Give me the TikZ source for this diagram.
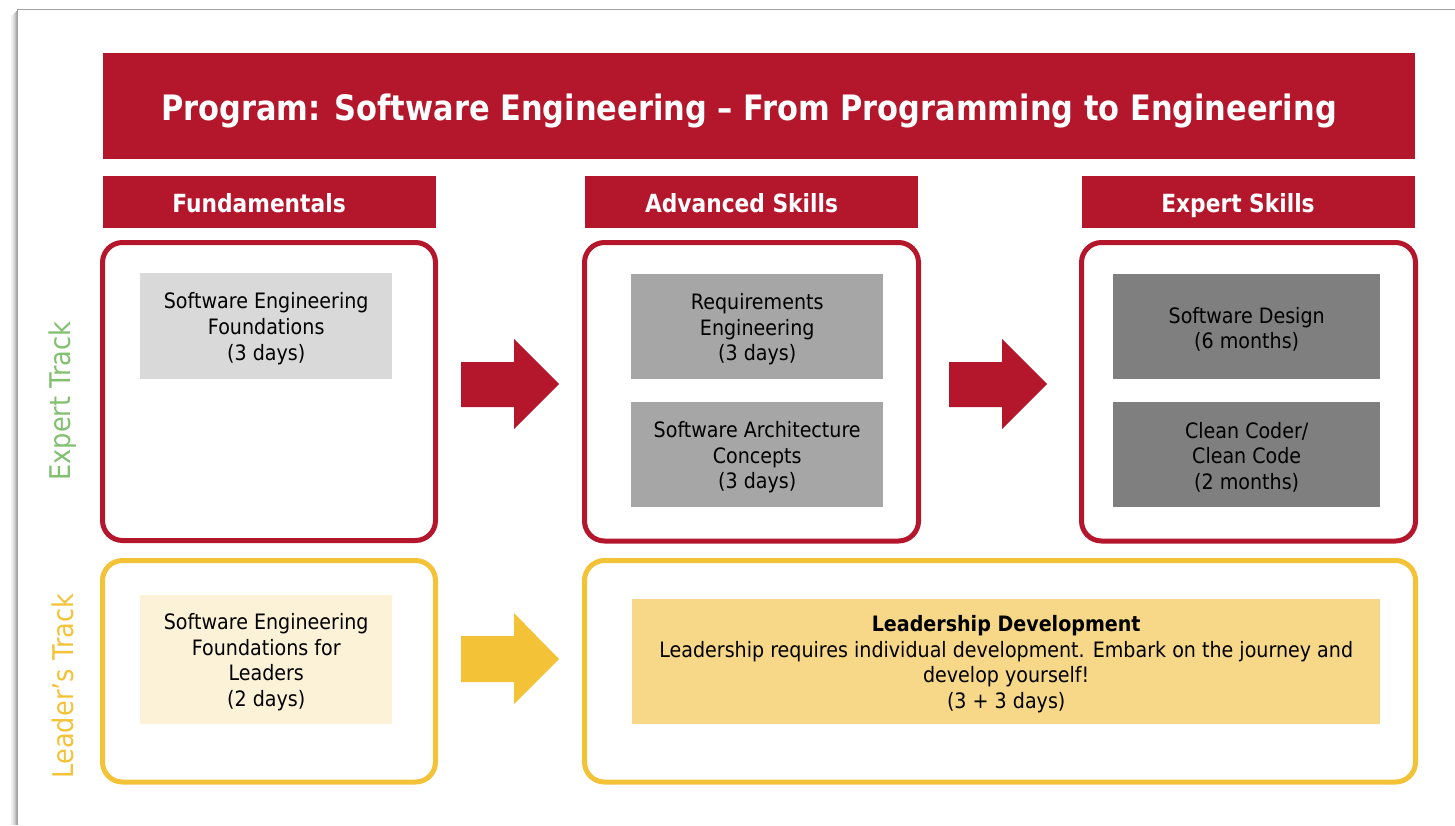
\documentclass[tikz,border=0pt]{standalone}
\usepackage{fontspec}
\setmainfont[FakeStretch=0.9]{DejaVu Sans}
\newfontfamily\titlefont[FakeStretch=0.87]{DejaVu Sans}
\definecolor{cred}{RGB}{180,22,44}
\definecolor{cyel}{RGB}{243,194,55}
\definecolor{cgreen}{RGB}{128,192,110}
\definecolor{g1}{RGB}{217,217,217}
\definecolor{g2}{RGB}{166,166,166}
\definecolor{g3}{RGB}{127,127,127}
\definecolor{cream}{RGB}{252,242,215}
\definecolor{ldev}{RGB}{247,216,136}
\definecolor{frame}{RGB}{160,160,160}
\tikzset{
  bar/.style={fill=cred, inner sep=0pt, anchor=north west},
  bartext/.style={text=white, inner sep=0pt, anchor=base, font=\titlefont\fontsize{25}{30}\selectfont\bfseries},
  redbox/.style={draw=cred, line width=5pt, rounded corners=20pt},
  yelbox/.style={draw=cyel, line width=5pt, rounded corners=20pt},
  course/.style={inner sep=0pt, anchor=north west},
  coursetext/.style={inner sep=0pt, align=center, yshift=-2.5pt, font=\fontsize{21.2}{25.6}\selectfont},
  track/.style={rotate=90, font=\fontsize{28.5}{32}\selectfont}
}
\begin{document}
\begin{tikzpicture}[x=1pt,y=-1pt]
\useasboundingbox (0,0) rectangle (1455,825);
% slide frame with shadow
\foreach \o/\op in {6/0.05,5/0.08,4/0.12,3/0.17,2/0.24,1/0.32}{
  \draw[line width=1pt, black, opacity=\op] (17.5-\o,9.5+\o) -- (17.5-\o,825);
}
\draw[frame, line width=1.5pt] (17.5,825) -- (17.5,9.5) -- (1455,9.5);
% title
\node[bar, minimum width=1312pt, minimum height=106pt] (title) at (103,53) {};
\node[bartext, font=\titlefont\fontsize{35}{40}\selectfont\bfseries] (titletext) at (749,120) {Program: Software Engineering – From Programming to Engineering};
% headers
\node[bar, minimum width=333pt, minimum height=52pt] (h1) at (103,176) {};
\node[bartext] (h1t) at (259,212) {Fundamentals};
\node[bar, minimum width=333pt, minimum height=52pt] (h2) at (585,176) {};
\node[bartext] (h2t) at (741.5,212) {Advanced Skills};
\node[bar, minimum width=333pt, minimum height=52pt] (h3) at (1082,176) {};
\node[bartext] (h3t) at (1238,212) {Expert Skills};
% track boxes
\draw[redbox] (102.5,242.5) rectangle (435.5,540.5);
\draw[redbox] (584.5,242.5) rectangle (918.5,541);
\draw[redbox] (1081.5,242.5) rectangle (1415.5,541);
\draw[yelbox] (102.5,560.5) rectangle (435.5,782);
\draw[yelbox] (584.5,560.5) rectangle (1415.5,782);
% track labels
\node[track, text=cgreen] (et) at (63,401) {Expert Track};
\node[track, text=cyel] (lt) at (63,686) {Leader’s Track};
% courses
\node[course, fill=g1, minimum width=252pt, minimum height=106pt] (sef) at (140,273) {};
\node[coursetext] (seft) at (sef.center) {Software Engineering\\Foundations\\(3 days)};
\node[course, fill=g2, minimum width=252pt, minimum height=105pt] (re) at (631,274) {};
\node[coursetext] (ret) at (re.center) {Requirements\\Engineering\\(3 days)};
\node[course, fill=g2, minimum width=252pt, minimum height=105pt] (sac) at (631,402) {};
\node[coursetext] (sact) at (sac.center) {Software Architecture\\Concepts\\(3 days)};
\node[course, fill=g3, minimum width=267pt, minimum height=105pt] (sd) at (1113,274) {};
\node[coursetext] (sdt) at (sd.center) {Software Design\\(6 months)};
\node[course, fill=g3, minimum width=267pt, minimum height=105pt] (cc) at (1113,402) {};
\node[coursetext] (cct) at (cc.center) {Clean Coder/\\Clean Code\\(2 months)};
\node[course, fill=cream, minimum width=252pt, minimum height=129pt] (sefl) at (140,595) {};
\node[coursetext] (seflt) at (sefl.center) {Software Engineering\\Foundations for\\Leaders\\(2 days)};
\node[course, fill=ldev, minimum width=748pt, minimum height=125pt] (ld) at (632,599) {};
\node[coursetext] (ldt) at (ld.center) {\textbf{Leadership Development}\\Leadership requires individual development. Embark on the journey and\\develop yourself!\\(3 + 3 days)};
% block arrows
\fill[cred] (461,362) -- (514,362) -- (514,339) -- (559,384) -- (514,429) -- (514,407) -- (461,407) -- cycle;
\fill[cred] (949,362) -- (1002,362) -- (1002,339) -- (1047,384) -- (1002,429) -- (1002,407) -- (949,407) -- cycle;
\fill[cyel] (461,636) -- (514,636) -- (514,613) -- (559,659) -- (514,704) -- (514,682) -- (461,682) -- cycle;
\end{tikzpicture}
\end{document}
